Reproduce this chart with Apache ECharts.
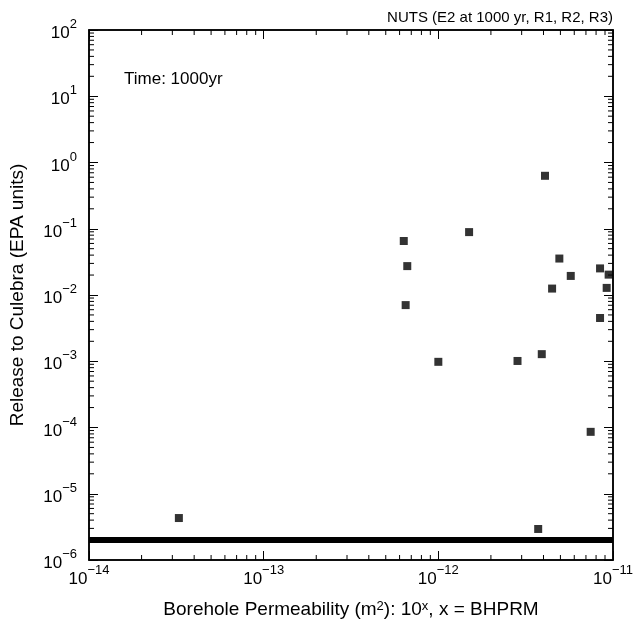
<!DOCTYPE html>
<html>
<head>
<meta charset="utf-8">
<script src="https://cdn.jsdelivr.net/npm/echarts@6/dist/echarts.min.js"></script>
<style>
html,body{margin:0;padding:0;background:#fff;}
#chart{width:642px;height:624px;}
</style>
</head>
<body>
<div id="chart"></div>
<script>
// Borehole permeability (m^2) values
var permeability = [
  3.27e-14, 6.34e-13, 6.64e-13, 6.50e-13, 1.00e-12, 1.50e-12,
  2.84e-12, 3.73e-12, 3.91e-12, 4.08e-12, 4.48e-12, 4.93e-12,
  5.73e-12, 7.45e-12, 8.43e-12, 8.43e-12, 9.20e-12, 9.44e-12
];
// Release to Culebra (EPA units)
var release = [
  4.3e-6, 0.0653, 0.0273, 0.00704, 0.00098, 0.089,
  0.00101, 2.94e-6, 0.00128, 0.63, 0.0125, 0.0355,
  0.0194, 8.6e-5, 0.0252, 0.0045, 0.0128, 0.0203
];
// floor band (many realizations at the lower cut-off)
var floorX = [1e-14, 1e-11];
var floorY = [2e-6, 2e-6];

var xMin = 1e-14, xMax = 1e-11;
var yMin = 1e-6, yMax = 1e2;
var xDecades = [-14, -13, -12];
var yDecades = [-6, -5, -4, -3, -2, -1, 0, 1];
var minorMult = [2, 3, 4, 5, 6, 7, 8, 9];

var FONT = 'Liberation Sans, Arial, Helvetica, sans-serif';

function expLabel(v) {
  var e = Math.round(Math.log10(v));
  var s = e < 0 ? '\u2212' + (-e) : '' + e;
  return '{b|10}{s|' + s + '}';
}
var labelRich = {
  b: { fontSize: 17, fontFamily: FONT, color: '#000', lineHeight: 24, verticalAlign: 'bottom' },
  s: { fontSize: 13, fontFamily: FONT, color: '#000', lineHeight: 12, verticalAlign: 'top' }
};

var data = permeability.map(function (x, i) { return [x, release[i]]; });
var floorData = floorX.map(function (x, i) { return [x, floorY[i]]; });

var xMinor = [];
xDecades.forEach(function (d) { minorMult.forEach(function (m) { xMinor.push([m * Math.pow(10, d)]); }); });
var yMinor = [];
yDecades.forEach(function (d) { minorMult.forEach(function (m) { yMinor.push([m * Math.pow(10, d)]); }); });

var chart = echarts.init(document.getElementById('chart'), null, { renderer: 'canvas' });

var option = {
  backgroundColor: '#fff',
  animation: false,
  title: [{
    text: 'NUTS (E2 at 1000 yr, R1, R2, R3)',
    right: 24, top: 5,
    textStyle: { fontSize: 15, fontWeight: 'normal', fontFamily: FONT, color: '#000' }
  }],
  graphic: [{
    type: 'text', left: 124, top: 71,
    style: { text: 'Time: 1000yr', font: '17px ' + FONT, fill: '#000' }
  }],
  grid: {
    left: 89, right: 29, top: 30, bottom: 59,
    show: true, borderColor: '#000', borderWidth: 1.5, backgroundColor: 'transparent'
  },
  xAxis: [{
    type: 'log', logBase: 10, min: xMin, max: xMax, interval: 1,
    position: 'bottom',
    name: 'Borehole Permeability (m{s|2}): 10{s|x}, x = BHPRM',
    nameLocation: 'middle', nameGap: 40,
    nameTextStyle: {
      fontSize: 19, fontFamily: FONT, color: '#000',
      rich: {
        s: { fontSize: 13, fontFamily: FONT, color: '#000', verticalAlign: 'top', lineHeight: 12 }
      }
    },
    axisLine: { show: true, lineStyle: { color: '#000', width: 1.5 } },
    axisTick: { show: true, inside: true, length: 9, lineStyle: { color: '#000', width: 1 } },
    axisLabel: { formatter: expLabel, rich: labelRich, margin: 4 },
    splitLine: { show: false }
  }, {
    type: 'log', logBase: 10, min: xMin, max: xMax, interval: 1,
    position: 'top',
    axisLine: { show: true, lineStyle: { color: '#000', width: 1.5 } },
    axisTick: { show: true, inside: true, length: 9, lineStyle: { color: '#000', width: 1 } },
    axisLabel: { show: false },
    splitLine: { show: false }
  }],
  yAxis: [{
    type: 'log', logBase: 10, min: yMin, max: yMax, interval: 1,
    position: 'left',
    name: 'Release to Culebra (EPA units)',
    nameLocation: 'middle', nameGap: 62, nameRotate: 90,
    nameTextStyle: { fontSize: 19, fontFamily: FONT, color: '#000' },
    axisLine: { show: true, lineStyle: { color: '#000', width: 1.5 } },
    axisTick: { show: true, inside: true, length: 9, lineStyle: { color: '#000', width: 1 } },
    axisLabel: { formatter: expLabel, rich: labelRich, margin: 12 },
    splitLine: { show: false }
  }, {
    type: 'log', logBase: 10, min: yMin, max: yMax, interval: 1,
    position: 'right',
    axisLine: { show: true, lineStyle: { color: '#000', width: 1.5 } },
    axisTick: { show: true, inside: true, length: 9, lineStyle: { color: '#000', width: 1 } },
    axisLabel: { show: false },
    splitLine: { show: false }
  }],
  series: [{
    type: 'line',
    data: floorData,
    xAxisIndex: 0, yAxisIndex: 0,
    showSymbol: false, symbol: 'none',
    lineStyle: { color: '#000', width: 6 },
    z: 3
  }, {
    type: 'scatter',
    data: data,
    xAxisIndex: 0, yAxisIndex: 0,
    symbol: 'rect', symbolSize: 8,
    itemStyle: { color: '#000' },
    z: 4
  }, {
    type: 'custom',
    xAxisIndex: 0, yAxisIndex: 0,
    data: xMinor,
    silent: true,
    renderItem: function (params, api) {
      var v = api.value(0);
      var b = api.coord([v, yMin]);
      var t = api.coord([v, yMax]);
      return {
        type: 'group',
        children: [
          { type: 'line', shape: { x1: b[0], y1: b[1], x2: b[0], y2: b[1] - 5 }, style: { stroke: '#000', lineWidth: 1 } },
          { type: 'line', shape: { x1: t[0], y1: t[1], x2: t[0], y2: t[1] + 5 }, style: { stroke: '#000', lineWidth: 1 } }
        ]
      };
    }
  }, {
    type: 'custom',
    xAxisIndex: 0, yAxisIndex: 0,
    data: yMinor,
    silent: true,
    encode: { y: 0 },
    renderItem: function (params, api) {
      var v = api.value(0);
      var l = api.coord([xMin, v]);
      var r = api.coord([xMax, v]);
      return {
        type: 'group',
        children: [
          { type: 'line', shape: { x1: l[0], y1: l[1], x2: l[0] + 5, y2: l[1] }, style: { stroke: '#000', lineWidth: 1 } },
          { type: 'line', shape: { x1: r[0], y1: r[1], x2: r[0] - 5, y2: r[1] }, style: { stroke: '#000', lineWidth: 1 } }
        ]
      };
    }
  }]
};
chart.setOption(option);
</script>
</body>
</html>
